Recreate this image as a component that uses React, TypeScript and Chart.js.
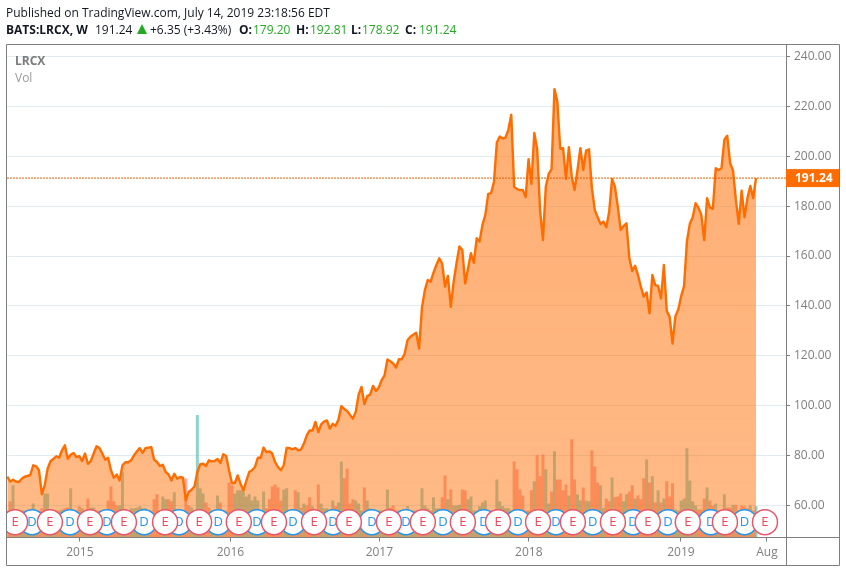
import { useEffect, useRef } from "react";
import { Chart, registerables } from "chart.js";

Chart.register(...registerables);

// weekly closes, Jul 2014 - Jul 2019
const closes = [
  71.6, 69.6, 70.3, 69.6, 69.4, 70.7, 71.5, 71.8, 72.2, 76.1,
  75.7, 74.1, 64.5, 68.0, 74.7, 77.7, 78.7, 79.7, 79.1, 82.1,
  84.1, 78.7, 80.3, 81.0, 79.4, 79.8, 77.8, 80.8, 76.7, 77.8,
  80.8, 83.7, 83.0, 80.8, 78.3, 79.1, 74.1, 71.1, 72.4, 70.0,
  76.1, 77.3, 77.3, 78.1, 80.1, 81.6, 83.0, 81.1, 83.0, 83.2,
  83.4, 78.3, 77.4, 75.8, 76.3, 73.4, 72.4, 70.0, 72.7, 70.7,
  71.4, 71.1, 62.0, 65.4, 66.3, 67.6, 73.4, 76.5, 76.7, 75.8,
  78.1, 77.7, 77.8, 78.6, 77.0, 80.5, 79.8, 74.1, 69.0, 69.0,
  72.0, 68.7, 66.0, 69.8, 73.4, 74.1, 75.4, 79.1, 79.1, 83.2,
  81.4, 81.7, 80.8, 77.4, 75.4, 74.1, 76.1, 83.0, 83.0, 82.5,
  83.0, 82.1, 82.4, 84.8, 88.1, 90.1, 90.0, 93.5, 89.4, 92.5,
  93.6, 94.1, 90.8, 92.7, 91.9, 94.4, 99.8, 98.7, 97.9, 96.3,
  94.8, 97.5, 104.4, 107.5, 100.6, 103.8, 104.4, 107.9, 105.9, 107.3,
  110.2, 112.1, 118.5, 117.8, 116.9, 115.3, 118.6, 118.6, 120.9, 126.3,
  127.6, 128.5, 129.2, 122.9, 139.4, 146.3, 150.4, 149.7, 153.3, 156.4,
  159.1, 157.0, 147.7, 152.0, 139.6, 149.7, 157.1, 163.8, 162.4, 149.0,
  155.1, 161.1, 157.3, 167.1, 165.8, 172.5, 176.5, 184.9, 185.2, 189.8,
  205.5, 207.9, 207.1, 207.5, 210.6, 216.6, 187.8, 186.8, 186.4, 186.5,
  183.6, 198.8, 188.9, 209.3, 202.8, 178.5, 166.4, 187.8, 192.9, 194.8,
  226.9, 222.0, 203.0, 203.2, 190.9, 203.6, 191.9, 186.5, 194.5, 203.2,
  194.5, 202.3, 202.8, 187.2, 178.5, 175.5, 172.8, 173.8, 171.5, 177.8,
  190.9, 187.8, 179.8, 170.4, 172.0, 173.1, 159.1, 154.0, 156.1, 152.4,
  147.7, 143.7, 145.4, 137.0, 152.4, 148.3, 148.0, 143.0, 156.4, 138.0,
  135.6, 124.9, 135.9, 138.6, 143.9, 147.9, 165.8, 172.9, 175.5, 181.2,
  179.4, 176.5, 166.4, 183.2, 179.4, 178.9, 195.2, 194.5, 195.2, 206.6,
  208.2, 197.2, 194.3, 182.5, 172.9, 186.2, 175.5, 183.2, 188.1, 183.2,
  191.24,
];

// weekly volume, millions
const volumes = [
  6.6, 8.8, 12.7, 6.3, 6.6, 6.6, 6.6, 6.6, 6.3, 8.3,
  6.6, 6.6, 7.1, 10.7, 10.7, 6.6, 6.6, 6.6, 6.6, 6.8,
  7.1, 7.3, 12, 6.6, 6.6, 7.6, 7.1, 6.6, 9.5, 7.3,
  7.3, 6.6, 6.6, 6.6, 6.6, 9, 12.4, 8.8, 7.8, 7.8,
  15.9, 6.6, 6.6, 7.1, 7.1, 7.3, 7.6, 7.1, 7.1, 6.6,
  6.6, 9.3, 10.5, 6.6, 10, 9.3, 9.3, 8.8, 11, 6.6,
  6.6, 6.6, 14.4, 7.8, 7.3, 6.6, 29.8, 12, 10.7, 8.5,
  7.3, 6.6, 6.6, 10.2, 8.5, 6.6, 6.6, 13.4, 12.7, 10.7,
  11.5, 11.5, 11.2, 10, 10.5, 9, 10, 9, 6.6, 11.2,
  7.1, 9.3, 12.4, 12.9, 12.2, 9, 11.7, 12, 6.6, 6.6,
  11.5, 11, 7.3, 8.3, 7.8, 9.8, 7.6, 6.6, 12.9, 8.3,
  7.1, 7.1, 6.6, 9, 7.6, 8.5, 18.5, 14.4, 16.8, 8.3,
  9.3, 9, 8.3, 6.6, 12.2, 9, 7.1, 6.6, 6.6, 6.6,
  6.6, 6.6, 11.7, 7.3, 7.8, 6.6, 6.6, 6.6, 6.6, 7.6,
  6.6, 6.6, 6.6, 6.6, 12, 7.8, 7.1, 6.6, 9.8, 7.1,
  7.1, 9.8, 15.1, 9.3, 11.7, 7.8, 7.8, 8, 11.7, 11.5,
  9.3, 10, 6.6, 6.6, 7.6, 8.5, 9, 6.6, 6.6, 6.6,
  14.1, 8.8, 7.6, 7.1, 7.1, 6.6, 18.5, 16.6, 11.7, 10.2,
  6.6, 6.6, 11.5, 13.7, 20, 14.9, 20.2, 16.6, 8.3, 11.2,
  21, 14.1, 14.1, 11.5, 12.9, 10.2, 23.9, 14.1, 10.5, 9,
  12.2, 9, 8.8, 21.2, 17.3, 13.4, 12.7, 7.1, 9.5, 8.8,
  14.6, 9.8, 10, 10.7, 8.8, 10.5, 11.2, 12.7, 9.5, 10.2,
  9.3, 14.4, 19, 13.4, 14.9, 8.5, 11.5, 8.5, 9.5, 13.7,
  10, 13.2, 6.8, 6.6, 9, 9.5, 21.7, 13.9, 8.8, 7.8,
  6.8, 6.8, 9.5, 12.2, 9, 7.8, 8.3, 6.6, 6.6, 10.5,
  7.3, 7.3, 8, 8, 6.6, 7.8, 7.6, 7.1, 7.8, 6.6,
  7.6,
];

// weeks whose volume bar is an up bar, the rest are down bars
const upWeeks = [
  2, 4, 5, 6, 7, 8, 9, 10, 13, 14, 15, 16, 17, 19, 22, 23, 26, 27, 29, 30, 31, 39, 40, 41, 43, 44, 45, 46, 47, 48, 49,
  54, 55, 58, 60, 64, 65, 66, 67, 68, 71, 72, 73, 75, 79, 80, 81, 82, 83, 84, 85, 86, 87, 88, 89, 96, 97, 98, 101, 103,
  106, 107, 109, 110, 111, 112, 113, 115, 116, 121, 122, 123, 125, 126, 127, 128, 129, 130, 131, 132, 135, 136, 137,
  138, 139, 140, 141, 142, 144, 145, 146, 147, 148, 149, 150, 153, 155, 156, 157, 160, 161, 162, 163, 164, 165, 166,
  167, 168, 169, 170, 171, 172, 173, 174, 175, 181, 183, 187, 188, 190, 195, 198, 199, 201, 202, 206, 207, 210, 214,
  215, 218, 222, 224, 226, 228, 232, 233, 234, 235, 236, 237, 238, 239, 243, 246, 247, 248, 249, 252, 254, 258, 260,
];

// event markers on the week axis
const earningsWeeks = [
  2.7, 14.8, 28.7, 40.5, 54.8, 66.6, 80.4, 92.6, 106.5, 118.6, 132.5, 144.3, 158.2, 170.4, 184.3, 196.4, 210.3, 222.4,
  236.3, 249.2, 263.1,
];
const dividendWeeks = [
  8.6, 21.8, 34.6, 47.5, 59.6, 73.2, 86.7, 99.2, 113.1, 126.6, 138.4, 151.3, 165.5, 177.3, 190.5, 203.3, 217.3, 229.4,
  244.3, 256,
];
const markerPrice = 53.3;
const lastPrice = 191.24;

const priceTicks = [60, 80, 100, 120, 140, 160, 180, 200, 220, 240];
const timeTicks = [25.2, 77.5, 129.2, 181.1, 233.9, 263.8];
const timeLabels = ["2015", "2016", "2017", "2018", "2019", "Aug"];

const FONT = '"Open Sans", sans-serif';
const GRAY = "#7f7f7f";
const ORANGE = "#ff6d00";
const GREEN = "#22ab22";

const headerParts: [string, string, boolean, number][] = [
  ["BATS:LRCX, W", "#131722", true, 6],
  ["191.24", "#131722", false, 95],
  ["+6.35 (+3.43%)", "#131722", false, 150],
  ["O:", "#131722", true, 239],
  ["179.20", GREEN, false, 253],
  ["H:", "#131722", true, 296],
  ["192.81", GREEN, false, 310],
  ["L:", "#131722", true, 351],
  ["178.92", GREEN, false, 362],
  ["C:", "#131722", true, 405],
  ["191.24", GREEN, false, 419],
];

const frame = {
  id: "frame",
  afterDraw(chart: Chart) {
    const { ctx, chartArea: a, scales } = chart;
    ctx.save();
    ctx.strokeStyle = GRAY;
    ctx.lineWidth = 1;
    ctx.beginPath();
    ctx.rect(6.5, 44.5, 833, 521);
    ctx.moveTo(786.5, 44.5);
    ctx.lineTo(786.5, 565.5);
    ctx.moveTo(6.5, 537.5);
    ctx.lineTo(839.5, 537.5);
    ctx.stroke();

    // last price tag
    const y = scales.y.getPixelForValue(lastPrice);
    ctx.fillStyle = ORANGE;
    ctx.fillRect(a.right, y - 9, 53, 18);
    ctx.fillStyle = "#fff";
    ctx.font = `bold 12px ${FONT}`;
    ctx.textBaseline = "middle";
    ctx.fillText(lastPrice.toFixed(2), 795, y + 0.5);

    // header
    ctx.textBaseline = "alphabetic";
    ctx.fillStyle = "#131722";
    ctx.font = `12px ${FONT}`;
    ctx.fillText("Published on TradingView.com, July 14, 2019 23:18:56 EDT", 6, 17);
    for (const [text, color, bold, x] of headerParts) {
      ctx.fillStyle = color;
      ctx.font = `${bold ? "bold " : ""}12px ${FONT}`;
      ctx.fillText(text, x, 34);
    }
    ctx.fillStyle = GREEN;
    ctx.beginPath();
    ctx.moveTo(142, 24);
    ctx.lineTo(147, 34);
    ctx.lineTo(137, 34);
    ctx.fill();

    ctx.fillStyle = "#7b7b7b";
    ctx.font = `bold 12px ${FONT}`;
    ctx.fillText("LRCX", 15, 65);
    ctx.fillStyle = "#9a9a9a";
    ctx.font = `12px ${FONT}`;
    ctx.fillText("Vol", 15, 82);
    ctx.restore();
  },
  afterDatasetDraw(chart: Chart, args: { index: number }) {
    const ds = chart.data.datasets[args.index] as { label?: string; borderColor?: unknown };
    if (ds.label !== "E" && ds.label !== "D") return;
    const { ctx } = chart;
    ctx.save();
    ctx.fillStyle = ds.label === "E" ? "#f0455c" : "#2196f3";
    ctx.font = `13px ${FONT}`;
    ctx.textAlign = "center";
    ctx.textBaseline = "middle";
    for (const el of chart.getDatasetMeta(args.index).data) {
      ctx.fillText(ds.label, el.x, el.y);
    }
    ctx.restore();
  },
};

export default function App() {
  const canvasRef = useRef<HTMLCanvasElement | null>(null);

  useEffect(() => {
    if (!canvasRef.current) return;
    const chart = new Chart(canvasRef.current, {
      data: {
        datasets: [
          {
            type: "scatter",
            label: "E",
            data: earningsWeeks.map((x) => ({ x, y: markerPrice })),
            pointRadius: 12.5,
            pointBackgroundColor: "#fff",
            pointBorderColor: "#e8566c",
            pointBorderWidth: 1.5,
            clip: 0,
            order: 0,
          },
          {
            type: "scatter",
            label: "D",
            data: dividendWeeks.map((x) => ({ x, y: markerPrice })),
            pointRadius: 12.5,
            pointBackgroundColor: "#fff",
            pointBorderColor: "#2196f3",
            pointBorderWidth: 1.5,
            clip: 0,
            order: 1,
          },
          {
            type: "line",
            label: "Last",
            data: [
              { x: -0.1, y: lastPrice },
              { x: 270.4, y: lastPrice },
            ],
            borderColor: "#e66000",
            borderWidth: 1,
            borderDash: [2, 1],
            pointRadius: 0,
            order: 2,
          },
          {
            type: "line",
            label: "LRCX",
            data: closes.map((y, x) => ({ x, y })),
            borderColor: ORANGE,
            borderWidth: 2.4,
            borderJoinStyle: "round",
            tension: 0,
            pointRadius: 0,
            fill: "start",
            backgroundColor: (c: any) => {
              const a = c.chart.chartArea;
              if (!a) return "rgba(255,109,0,0.5)";
              const g = c.chart.ctx.createLinearGradient(0, a.top, 0, a.bottom);
              g.addColorStop(0, "rgba(255,109,0,0.56)");
              g.addColorStop(1, "rgba(255,109,0,0.47)");
              return g;
            },
            order: 3,
          },
          {
            type: "bar",
            label: "Vol",
            data: volumes.map((y, x) => ({ x, y })),
            yAxisID: "vol",
            barThickness: 3,
            inflateAmount: 0,
            backgroundColor: volumes.map((_, i) =>
              upWeeks.includes(i) ? "rgba(38,166,154,0.5)" : "rgba(239,83,80,0.5)",
            ),
            order: 4,
          },
        ],
      },
      options: {
        responsive: false,
        animation: false,
        layout: { autoPadding: false, padding: { left: 7, right: 7, top: 44.5, bottom: 7 } },
        plugins: { legend: { display: false }, tooltip: { enabled: false } },
        scales: {
          x: {
            type: "linear",
            min: -0.1,
            max: 270.4,
            offset: false,
            border: { display: false },
            grid: { offset: false, drawOnChartArea: false, tickLength: 4, tickColor: GRAY },
            afterBuildTicks: (s: any) => {
              s.ticks = timeTicks.map((value) => ({ value }));
            },
            afterFit: (s: any) => {
              s.height = 27.5;
            },
            ticks: {
              autoSkip: false,
              maxRotation: 0,
              color: GRAY,
              font: { family: FONT, size: 12 },
              padding: 4,
              callback: (v: any) => timeLabels[timeTicks.indexOf(v)],
            },
          },
          y: {
            position: "right",
            min: 47.14,
            max: 244.8,
            border: { display: false },
            grid: { color: "#e1ecf2", tickLength: 4, tickColor: GRAY },
            afterBuildTicks: (s: any) => {
              s.ticks = priceTicks.map((value) => ({ value }));
            },
            afterFit: (s: any) => {
              s.width = 53;
            },
            ticks: {
              color: GRAY,
              font: { family: FONT, size: 12 },
              padding: 4,
              callback: (v: any) => Number(v).toFixed(2),
            },
          },
          vol: { display: false, min: 0, max: 120 },
        },
      },
      plugins: [frame],
    } as any);
    return () => chart.destroy();
  }, []);

  return (
    <div style={{ position: "absolute", left: 0, top: 0, width: 846, height: 572, background: "#fff" }}>
      <canvas ref={canvasRef} width={846} height={572} style={{ display: "block" }} />
    </div>
  );
}
